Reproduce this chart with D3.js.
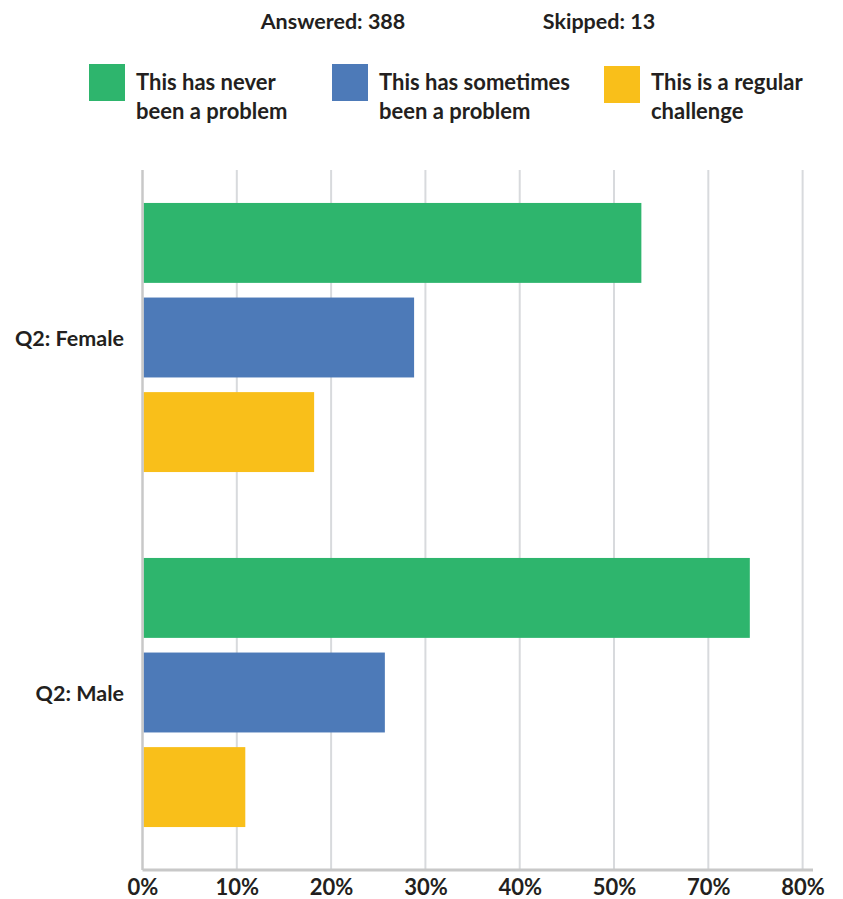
<!DOCTYPE html>
<html>
<head>
<meta charset="utf-8">
<script src="https://cdn.jsdelivr.net/npm/d3@7"></script>
<style>
  html, body { margin: 0; padding: 0; background: #fff; }
  svg { display: block; }
  text { font-family: Lato, "Open Sans", sans-serif; font-weight: 700; fill: #231f20; }
</style>
</head>
<body>
<svg id="chart" width="843" height="899"></svg>
<script>
// ---- data ----
const categories = ["Q2: Female", "Q2: Male"];
const seriesNames = [
  ["This has never", "been a problem"],
  ["This has sometimes", "been a problem"],
  ["This is a regular", "challenge"]
];
const seriesColors = ["#2eb56d", "#4d7ab8", "#f9bf1a"];
const neverProblem = [52.9, 64.4];
const sometimesProblem = [28.8, 25.7];
const regularChallenge = [18.2, 10.9];
const tickValues = [0, 10, 20, 30, 40, 50, 60, 70];
const tickLabels = ["0%", "10%", "20%", "30%", "40%", "50%", "70%", "80%"];
const answered = "Answered: 388";
const skipped = "Skipped: 13";

const series = [neverProblem, sometimesProblem, regularChallenge];

const svg = d3.select("#chart");

// header
svg.append("text").attr("x", 333).attr("y", 29).attr("text-anchor", "middle")
  .style("font-size", "21.5px").text(answered);
svg.append("text").attr("x", 599).attr("y", 29).attr("text-anchor", "middle")
  .style("font-size", "21.5px").text(skipped);

// legend
const legendX = [89, 332, 604];
const legendSwatchY = [64, 64, 66];
seriesNames.forEach((lines, i) => {
  const g = svg.append("g");
  g.append("rect").attr("x", legendX[i]).attr("y", legendSwatchY[i])
    .attr("width", 36).attr("height", 37).attr("fill", seriesColors[i]);
  const t = g.append("text").attr("x", legendX[i] + 48).attr("y", 90)
    .style("font-size", "22px");
  lines.forEach((ln, j) => {
    t.append("tspan").attr("x", legendX[i] + 47).attr("dy", j === 0 ? 0 : 29).text(ln);
  });
});

// scales
const plotTop = 170, plotBottom = 870;
const x = d3.scaleLinear().domain([0, 71.1]).range([142.5, 813]);
const y0 = d3.scaleBand().domain(categories).range([160, 870])
  .paddingInner(0.242).paddingOuter(0.121);
const y1 = d3.scaleBand().domain(d3.range(series.length)).range([0, y0.bandwidth()])
  .paddingInner(0.155).paddingOuter(0);

// gridlines
svg.append("g").selectAll("line").data(tickValues.slice(1)).join("line")
  .attr("x1", d => x(d)).attr("x2", d => x(d))
  .attr("y1", plotTop).attr("y2", plotBottom)
  .attr("stroke", "#d8dadd").attr("stroke-width", 2);

// bars
categories.forEach((cat, ci) => {
  const g = svg.append("g").attr("transform", `translate(0,${y0(cat)})`);
  g.selectAll("rect").data(series.map((s, si) => ({si, v: s[ci]}))).join("rect")
    .attr("x", x(0) + 1)
    .attr("y", d => y1(d.si))
    .attr("width", d => x(d.v) - x(0) - 1)
    .attr("height", y1.bandwidth())
    .attr("fill", d => seriesColors[d.si]);
});

// left axis line
svg.append("line").attr("x1", x(0)).attr("x2", x(0))
  .attr("y1", plotTop).attr("y2", plotBottom)
  .attr("stroke", "#c8c8c8").attr("stroke-width", 2.5);

// bottom axis
const xAxis = d3.axisBottom(x).tickValues(tickValues)
  .tickFormat((d, i) => tickLabels[i]).tickSize(0).tickPadding(9);
const ax = svg.append("g").attr("transform", `translate(0,${plotBottom})`).call(xAxis);
ax.select(".domain").attr("stroke", "#c8c8c8").attr("stroke-width", 3)
  .attr("d", `M${x(0)},0H${x(71.1)}`);
ax.selectAll("text").style("font-size", "22px").style("font-family", "Lato, 'Open Sans', sans-serif")
  .style("font-weight", "700").attr("fill", "#231f20");

// category labels
svg.append("g").selectAll("text").data(categories).join("text")
  .attr("x", 124).attr("y", d => y0(d) + y0.bandwidth() / 2)
  .attr("text-anchor", "end").attr("dominant-baseline", "central")
  .style("font-size", "21.5px").text(d => d);
</script>
</body>
</html>
